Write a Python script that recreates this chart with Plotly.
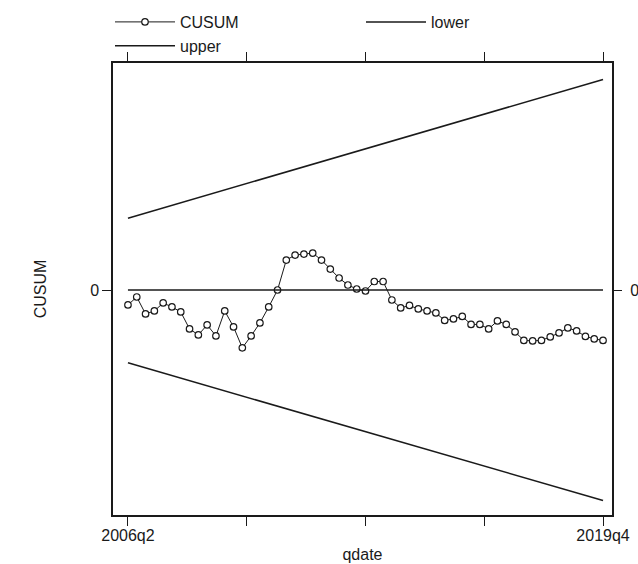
import plotly.graph_objects as go

# Stata quarterly dates: 185 = 2006q2 ... 239 = 2019q4
qdate = list(range(185, 240))
cusum = [-1.5, -0.7, -2.4, -2.1, -1.3, -1.7, -2.2, -3.9, -4.5, -3.5, -4.6, -2.1,
         -3.7, -5.8, -4.6, -3.3, -1.7, 0.0, 3.0, 3.5, 3.6, 3.7, 3.0, 2.1,
         1.2, 0.5, 0.1, -0.1, 0.85, 0.85, -1.0, -1.8, -1.55, -1.9, -2.1, -2.3,
         -3.05, -2.9, -2.65, -3.45, -3.45, -3.9, -3.1, -3.45, -4.2, -5.05, -5.1, -5.05,
         -4.7, -4.3, -3.8, -4.1, -4.65, -4.9, -5.05]
bound_x = [185, 239]
upper = [7.2, 21.1]
lower = [-7.3, -21.1]
zero = [0, 0]

xtick_vals = [185, 198.5, 212, 225.5, 239]
xtick_text = ["2006q2", "", "", "", "2019q4"]

FONT = "Liberation Sans, Arial, sans-serif"
INK = "#1a1a1a"

fig = go.Figure()
fig.add_trace(go.Scatter(x=bound_x, y=zero, mode="lines", showlegend=False,
                         line=dict(color=INK, width=1.5), yaxis="y2", hoverinfo="skip"))
fig.add_trace(go.Scatter(x=qdate, y=cusum, mode="lines+markers", name="CUSUM",
                         line=dict(color=INK, width=1),
                         marker=dict(symbol="circle", size=6.5, color="white",
                                     line=dict(color=INK, width=1.2))))
fig.add_trace(go.Scatter(x=bound_x, y=lower, mode="lines", name="lower",
                         line=dict(color=INK, width=1.5)))
fig.add_trace(go.Scatter(x=bound_x, y=upper, mode="lines", name="upper",
                         line=dict(color=INK, width=1.5)))

yr = [-22.55, 22.75]
fig.update_layout(
    width=638, height=564,
    margin=dict(l=113, r=26, t=62, b=49),
    paper_bgcolor="white", plot_bgcolor="white",
    font=dict(family=FONT, size=16, color=INK),
    showlegend=True,
    legend=dict(orientation="h", xref="container", yref="container",
                x=110 / 638, xanchor="left", y=1 - 5 / 564, yanchor="top",
                entrywidth=176, entrywidthmode="pixels", itemwidth=60,
                font=dict(family=FONT, size=16, color=INK),
                bgcolor="rgba(0,0,0,0)", tracegroupgap=0),
    xaxis=dict(range=[183.3, 240.02], tickvals=xtick_vals, ticktext=xtick_text,
               ticks="outside", ticklen=9, tickwidth=1, tickcolor=INK,
               ticklabelstandoff=-4,
               showline=True, linecolor=INK, linewidth=1.5, mirror="ticks",
               showgrid=False, zeroline=False, automargin=False,
               title=dict(text="qdate", standoff=6, font=dict(size=16))),
    yaxis=dict(range=yr, tickvals=[0], ticktext=["0"],
               ticks="outside", ticklen=9, tickwidth=1, tickcolor=INK,
               showline=True, linecolor=INK, linewidth=1.5, mirror=True,
               showgrid=False, zeroline=False, automargin=False,
               title=dict(text="CUSUM", standoff=40, font=dict(size=16))),
    yaxis2=dict(range=yr, overlaying="y", side="right", tickvals=[0], ticktext=["0"],
                ticks="outside", ticklen=9, tickwidth=1, tickcolor=INK,
                ticklabelstandoff=5, automargin=False,
                showline=False, showgrid=False, zeroline=False),
)

fig.write_html("out.html", config={"displayModeBar": False},
               post_script="document.body.style.margin='0';")
